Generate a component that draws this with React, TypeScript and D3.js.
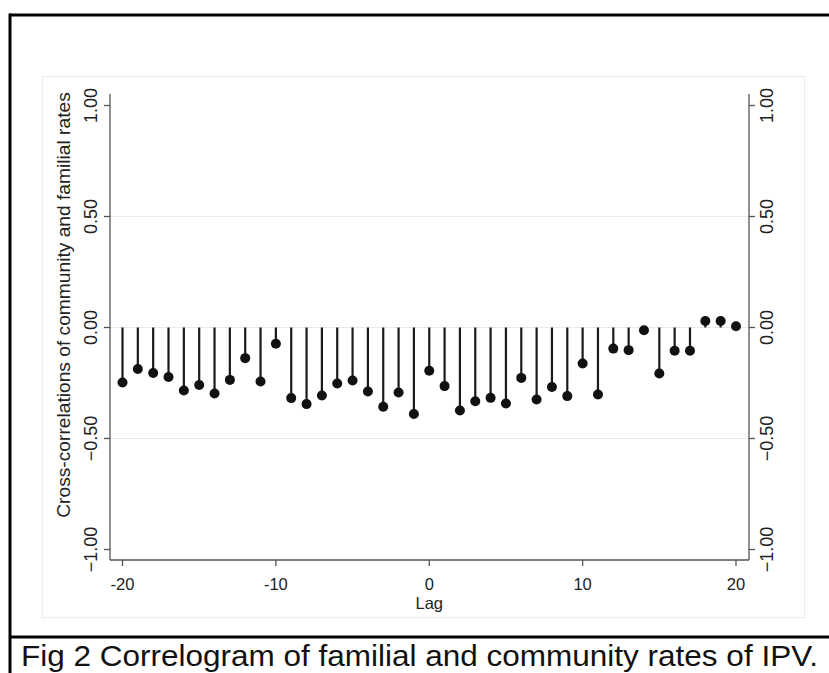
import React from "react";
import * as d3 from "d3";

const lags: number[] = [
  -20, -19, -18, -17, -16, -15, -14, -13, -12, -11, -10, -9, -8, -7, -6, -5, -4, -3, -2, -1,
  0, 1, 2, 3, 4, 5, 6, 7, 8, 9, 10, 11, 12, 13, 14, 15, 16, 17, 18, 19, 20,
];
const correlations: number[] = [
  -0.248, -0.187, -0.205, -0.223, -0.284, -0.259, -0.297, -0.236, -0.138, -0.243, -0.073,
  -0.318, -0.345, -0.306, -0.252, -0.239, -0.288, -0.357, -0.293, -0.39,
  -0.195, -0.264, -0.374, -0.332, -0.317, -0.342, -0.227, -0.324, -0.268, -0.309,
  -0.162, -0.302, -0.095, -0.102, -0.012, -0.207, -0.105, -0.105, 0.029, 0.029, 0.006,
];
const xTicks: number[] = [-20, -10, 0, 10, 20];
const yTicks: number[] = [-1, -0.5, 0, 0.5, 1];
const gridValues: number[] = [-0.5, 0, 0.5];
const yTitle = "Cross-correlations of community and familial rates";
const xTitle = "Lag";
const caption = "Fig 2 Correlogram of familial and community rates of IPV.";

export default function App() {
  const W = 829;
  const H = 673;
  const x = d3.scaleLinear().domain([-20, 20]).range([122.5, 736]);
  const y = d3.scaleLinear().domain([-1, 1]).range([549.5, 105.5]);
  const axL = 110;
  const axR = 749;
  const axT = 94;
  const axB = 560;
  const font = "'Liberation Sans', Arial, sans-serif";
  const axisColor = "#555";
  const fmt = d3.format(".2f");
  const tickFont = 18;
  const xFont = 16.5;

  return (
    <svg
      width={W}
      height={H}
      style={{ position: "absolute", left: 0, top: 0, background: "#fff" }}
      fontFamily={font}
    >
      <rect x={0} y={0} width={W} height={H} fill="#fff" />
      {/* outer frame */}
      <line x1={10} y1={15} x2={W} y2={15} stroke="#000" strokeWidth={3} />
      <line x1={10} y1={13.5} x2={10} y2={H} stroke="#000" strokeWidth={3} />
      <line x1={10} y1={637} x2={W} y2={637} stroke="#000" strokeWidth={3} />
      {/* graph region border */}
      <rect x={42.5} y={76.5} width={762} height={541} fill="none" stroke="#e6eef0" strokeWidth={1} />
      {/* gridlines */}
      {gridValues.map((g) => (
        <line key={g} x1={axL} x2={axR} y1={y(g)} y2={y(g)} stroke="#e3ecef" strokeWidth={1.2} />
      ))}
      {/* stems */}
      {lags.map((l, i) => (
        <line
          key={"s" + l}
          x1={x(l)}
          x2={x(l)}
          y1={y(0)}
          y2={y(correlations[i])}
          stroke="#1a1a1a"
          strokeWidth={2.2}
        />
      ))}
      {/* markers */}
      {lags.map((l, i) => (
        <circle key={"c" + l} cx={x(l)} cy={y(correlations[i])} r={5} fill="#111" />
      ))}
      {/* axes */}
      <line x1={axL} x2={axL} y1={axT} y2={axB} stroke={axisColor} strokeWidth={1.3} />
      <line x1={axR} x2={axR} y1={axT} y2={axB} stroke={axisColor} strokeWidth={1.3} />
      <line x1={axL} x2={axR} y1={axB} y2={axB} stroke={axisColor} strokeWidth={1.3} />
      {yTicks.map((t) => (
        <g key={"yt" + t}>
          <line x1={axL - 6} x2={axL} y1={y(t)} y2={y(t)} stroke={axisColor} strokeWidth={1.3} />
          <line x1={axR} x2={axR + 6} y1={y(t)} y2={y(t)} stroke={axisColor} strokeWidth={1.3} />
          <text
            transform={`translate(${axL - 13},${y(t)}) rotate(-90)`}
            textAnchor="middle"
            fontSize={tickFont}
            fill="#222"
          >
            {fmt(t)}
          </text>
          <text
            transform={`translate(${axR + 11},${y(t)}) rotate(-90)`}
            textAnchor="middle"
            dominantBaseline="hanging"
            fontSize={tickFont}
            fill="#222"
          >
            {fmt(t)}
          </text>
        </g>
      ))}
      {xTicks.map((t) => (
        <g key={"xt" + t}>
          <line x1={x(t)} x2={x(t)} y1={axB} y2={axB + 6} stroke={axisColor} strokeWidth={1.3} />
          <text x={x(t)} y={589.5} textAnchor="middle" fontSize={xFont} fill="#222">
            {t}
          </text>
        </g>
      ))}
      <text x={x(0)} y={609} textAnchor="middle" fontSize={xFont} fill="#222">
        {xTitle}
      </text>
      <text
        transform={`translate(70,305) rotate(-90)`}
        textAnchor="middle"
        fontSize={19.2}
        fill="#222"
      >
        {yTitle}
      </text>
      <text
        x={21}
        y={666}
        fontSize={30}
        fill="#111"
        textLength={797}
        lengthAdjust="spacingAndGlyphs"
      >
        {caption}
      </text>
    </svg>
  );
}
